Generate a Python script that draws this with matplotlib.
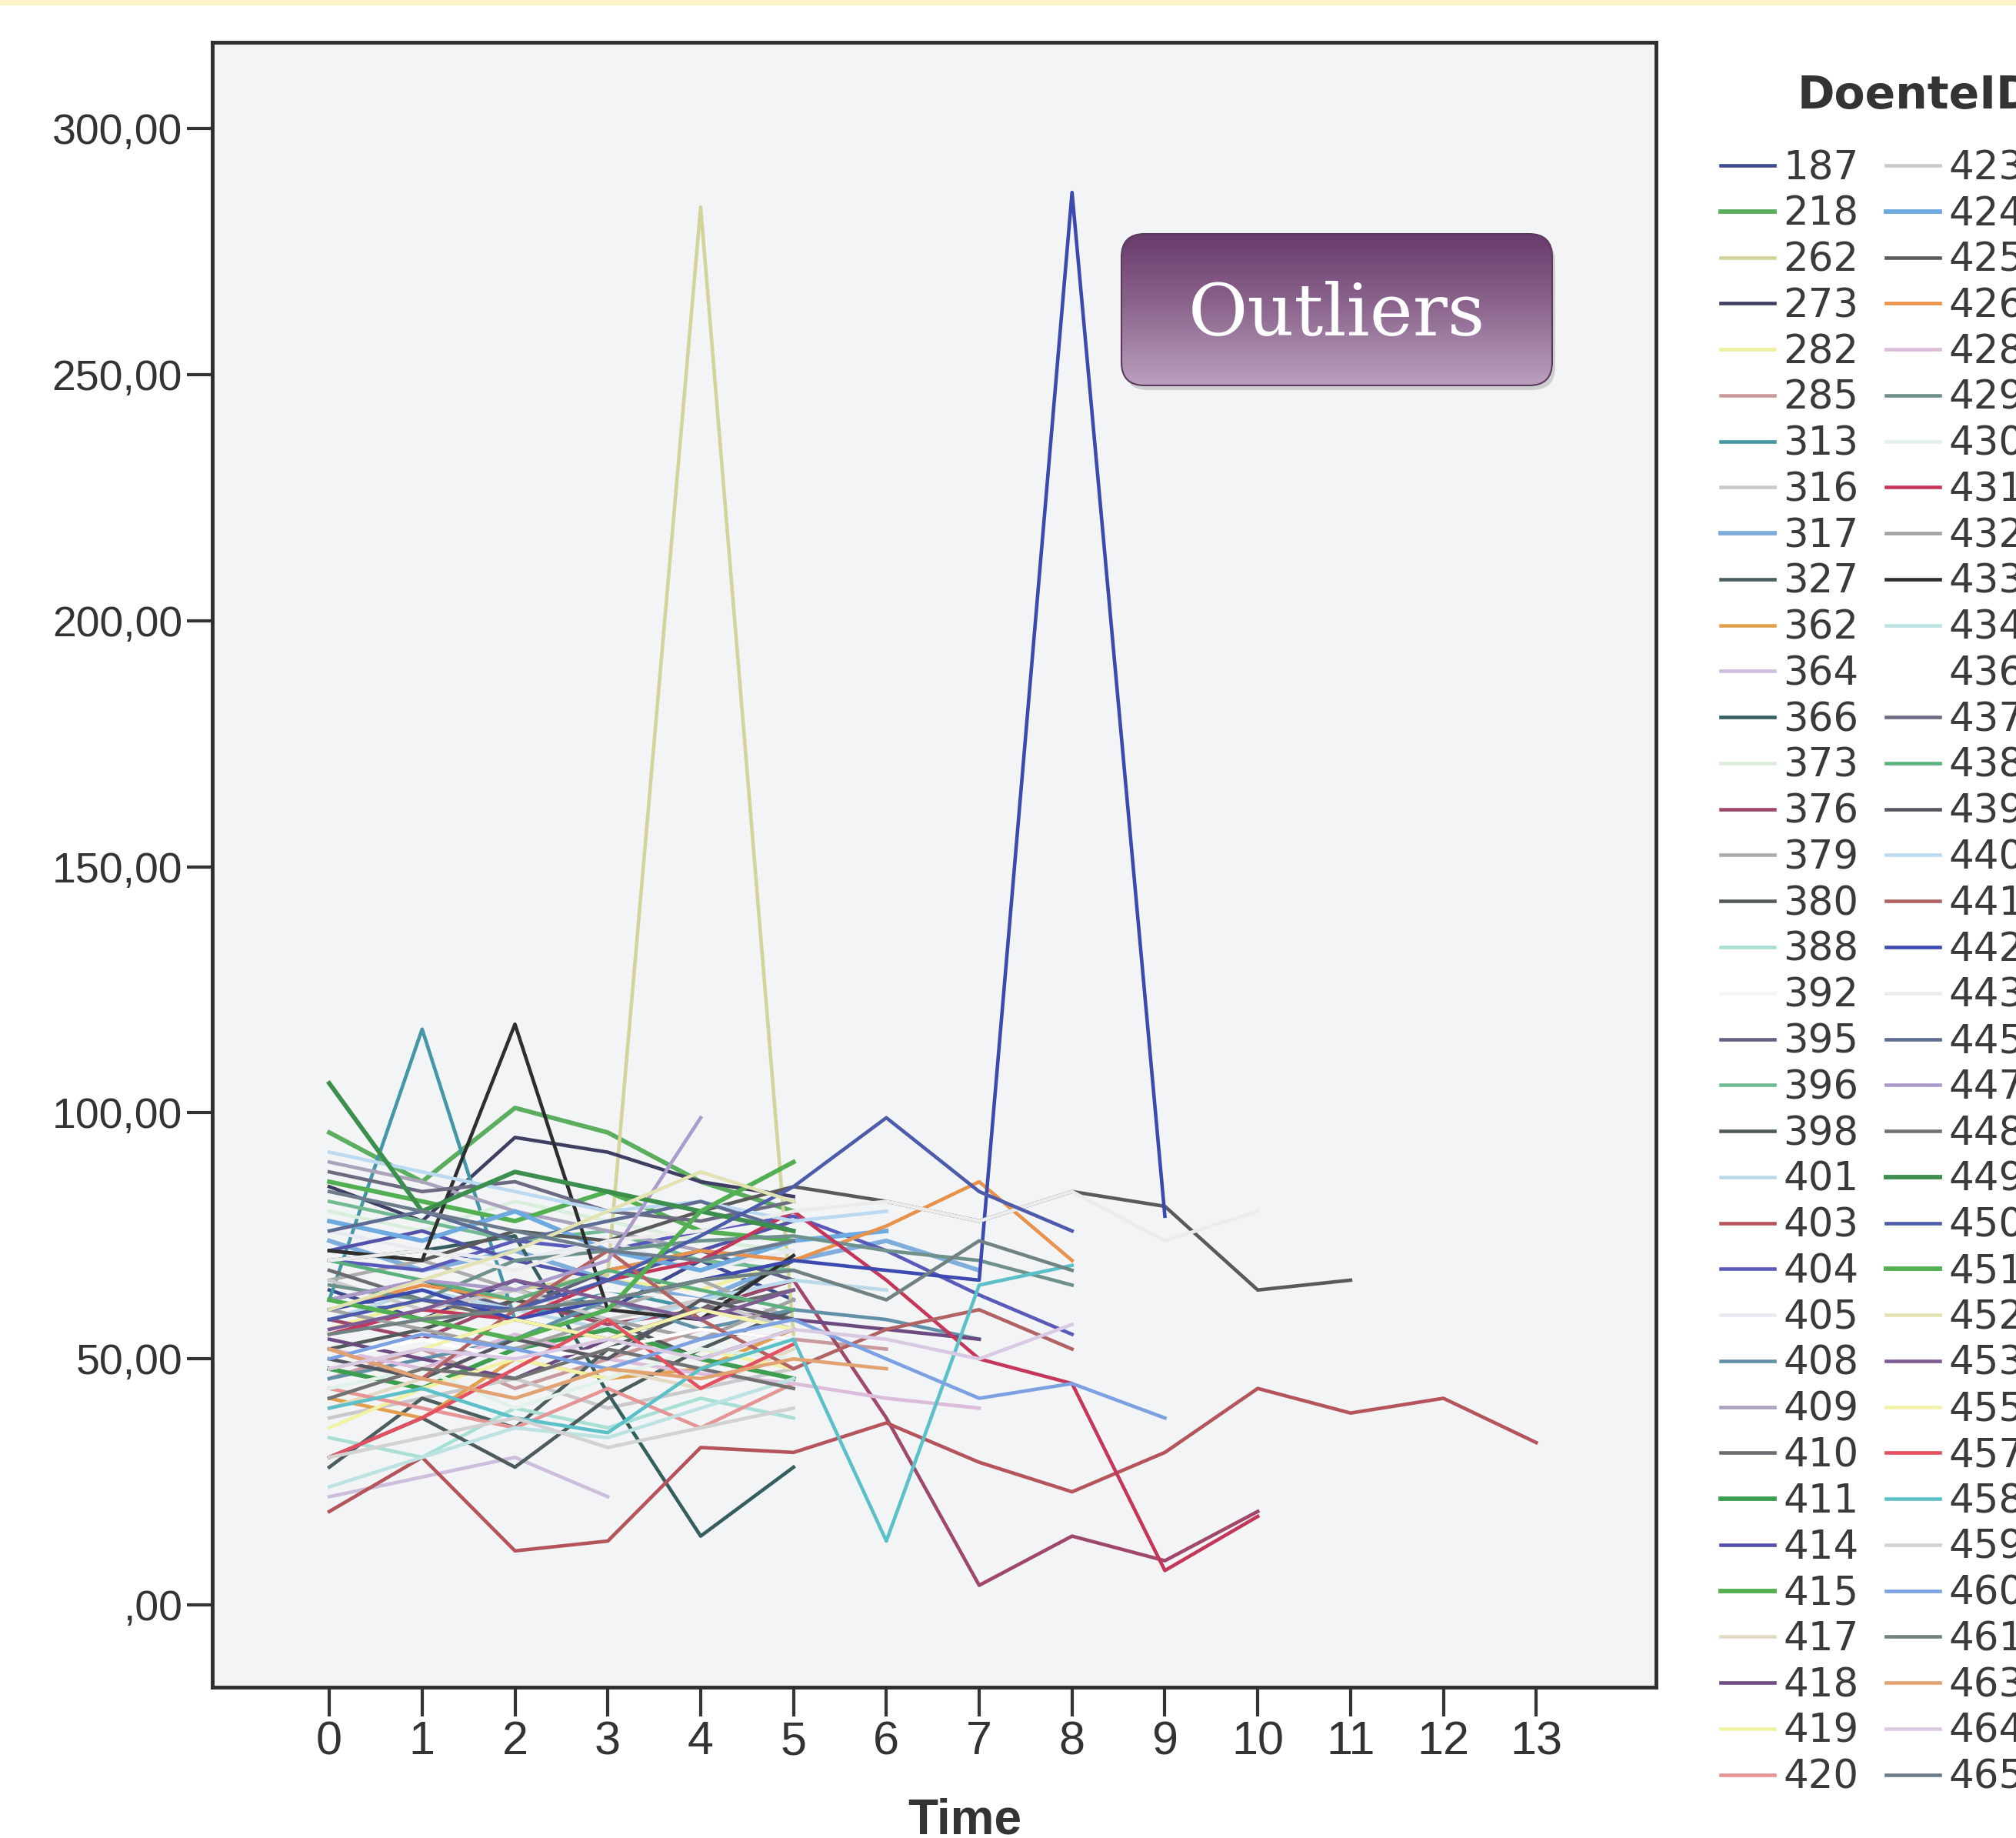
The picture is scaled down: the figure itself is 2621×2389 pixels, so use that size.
import matplotlib.pyplot as plt
import numpy as np
from matplotlib import font_manager
from matplotlib.patches import FancyBboxPatch, Rectangle
from matplotlib.colors import LinearSegmentedColormap

# measurements per patient (DoenteID), one value per Time 0, 1, 2, ...
p187 = [64, 58, 66, 60, 70, 62]
p218 = [96, 86, 101, 96, 86, 80]
p262 = [62, 58, 64, 67, 284, 55]
p273 = [85, 78, 95, 92, 86, 83]
p282 = [56, 62, 58, 66, 64, 70]
p285 = [46, 52, 44, 50, 56, 54, 52]
p313 = [62, 117, 58, 64, 60, 66]
p316 = [38, 42, 46, 40, 44, 48]
p317 = [74, 68, 72, 66, 62, 70, 74, 68]
p327 = [28, 42, 36, 52, 60, 70]
p362 = [42, 38, 50, 46, 48, 56]
p364 = [22, 26, 30, 22]
p366 = [70, 72, 75, 43, 14, 28]
p373 = [80, 76, 82, 78, 74, 72]
p376 = [58, 54, 62, 57, 60, 66, 38, 4, 14, 9, 19]
p379 = [66, 70, 64, 60, 66, 58]
p380 = [52, 56, 62, 58, 50, 56]
p388 = [34, 30, 40, 36, 42, 38]
p392 = [60, 62, 60, 64, 62, 60]
p395 = [62, 66, 60, 68, 72, 66]
p396 = [82, 78, 74, 76, 70, 68]
p398 = [30, 38, 28, 42, 52, 60]
p401 = [58, 64, 60, 56, 62, 66, 64]
p403 = [19, 30, 11, 13, 32, 31, 37, 29, 23, 31, 44, 39, 42, 33]
p404 = [70, 68, 74, 72, 76, 79, 72, 63, 55]
p405 = [76, 72, 70, 74, 68, 72]
p408 = [46, 50, 54, 62, 56, 60, 58, 54]
p409 = [90, 86, 80, 76, 72, 70]
p410 = [68, 62, 58, 54, 60, 64]
p411 = [48, 44, 52, 56, 50, 46]
p414 = [72, 76, 70, 66, 72, 78]
p415 = [86, 82, 78, 84, 76, 74]
p417 = [40, 46, 42, 48, 44, 52]
p418 = [54, 50, 46, 54, 60, 58, 56, 54]
p419 = [36, 44, 50, 46, 52, 48]
p420 = [44, 40, 36, 44, 36, 45]
p423 = [66, 60, 64, 58, 62, 56]
p424 = [78, 74, 80, 72, 68, 74, 76]
p425 = [72, 70, 76, 74, 80, 85, 82, 78, 84, 81, 64, 66]
p426 = [60, 65, 62, 68, 72, 70, 77, 86, 70]
p428 = [52, 48, 55, 50, 47, 45, 42, 40]
p429 = [65, 62, 70, 72, 74, 75, 72, 70, 65]
p430 = [44, 48, 40, 46, 52, 50]
p431 = [55, 60, 58, 66, 70, 80, 66, 50, 45, 7, 18]
p432 = [60, 56, 52, 58, 54, 62]
p433 = [72, 70, 118, 60, 58, 71]
p434 = [24, 30, 36, 34, 40, 46]
p436 = [50, 54, 50, 52, 56, 54]
p437 = [88, 84, 86, 80, 78, 82]
p438 = [70, 66, 62, 68, 64, 60]
p439 = [50, 46, 54, 50, 62, 58]
p440 = [92, 88, 84, 80, 82, 78, 80]
p441 = [52, 46, 60, 72, 58, 48, 56, 60, 52]
p442 = [60, 64, 58, 62, 66, 70, 68, 66, 287, 79]
p443 = [70, 72, 68, 74, 76, 80, 82, 78, 84, 74, 80]
p445 = [76, 80, 74, 78, 82, 76]
p447 = [62, 66, 64, 70, 99]
p448 = [42, 48, 46, 52, 48, 44]
p449 = [106, 80, 88, 84, 80, 76]
p450 = [58, 62, 60, 66, 75, 85, 99, 84, 76]
p451 = [62, 58, 54, 60, 80, 90]
p452 = [60, 66, 72, 80, 88, 82]
p453 = [56, 60, 66, 62, 58, 64]
p455 = [48, 52, 58, 54, 60, 56]
p457 = [30, 38, 48, 58, 44, 53]
p458 = [40, 44, 38, 35, 48, 54, 13, 65, 69]
p459 = [30, 34, 38, 32, 36, 40]
p460 = [50, 55, 52, 48, 54, 58, 50, 42, 45, 38]
p461 = [55, 58, 60, 62, 66, 68, 62, 74, 68]
p463 = [52, 46, 42, 48, 46, 50, 48]
p464 = [48, 52, 50, 54, 50, 56, 54, 50, 57]
p465 = [84, 80, 76, 72, 70, 74]

patient_ids = ['187', '218', '262', '273', '282', '285', '313', '316', '317',
               '327', '362', '364', '366', '373', '376', '379', '380', '388',
               '392', '395', '396', '398', '401', '403', '404', '405', '408',
               '409', '410', '411', '414', '415', '417', '418', '419', '420',
               '423', '424', '425', '426', '428', '429', '430', '431', '432',
               '433', '434', '436', '437', '438', '439', '440', '441', '442',
               '443', '445', '447', '448', '449', '450', '451', '452', '453',
               '455', '457', '458', '459', '460', '461', '463', '464', '465']
patient_series = [p187, p218, p262, p273, p282, p285, p313, p316, p317,
                  p327, p362, p364, p366, p373, p376, p379, p380, p388,
                  p392, p395, p396, p398, p401, p403, p404, p405, p408,
                  p409, p410, p411, p414, p415, p417, p418, p419, p420,
                  p423, p424, p425, p426, p428, p429, p430, p431, p432,
                  p433, p434, p436, p437, p438, p439, p440, p441, p442,
                  p443, p445, p447, p448, p449, p450, p451, p452, p453,
                  p455, p457, p458, p459, p460, p461, p463, p464, p465]

time_ticks = list(range(14))
y_ticks = [0, 50, 100, 150, 200, 250, 300]
y_labels = [',00', '50,00', '100,00', '150,00', '200,00', '250,00', '300,00']

colors = ['#3E4A8F', '#5AAE5E', '#D3D49C', '#3F3F63', '#EFEF9E', '#C99A9C',
          '#4596A6', '#C9C9CB', '#7FAEDD', '#4C5E5E', '#E2A04E', '#CDBEDC',
          '#355E5E', '#D9EEDB', '#A0486A', '#ABABAB', '#525A5A', '#A9E0D6',
          '#F4F4F4', '#616182', '#72BB92', '#4E5B5B', '#BAD9EA', '#B5545A',
          '#5A5ABA', '#E9E9F1', '#6290A9', '#ABA3BC', '#6B6B72', '#3E9E50',
          '#5252AA', '#52B052', '#E3DAC3', '#6C4B82', '#F2F2A4', '#E59593',
          '#CACACC', '#6CAAE0', '#5A5A5A', '#E8924C', '#DBBCDB', '#6F918C',
          '#E2F1E9', '#C4375A', '#A2A2A2', '#2E2E2E', '#BCE2E2', '#FFFFFF',
          '#6B6B82', '#5CB07C', '#575762', '#BBDAF2', '#B26262', '#3C4AB0',
          '#ECECEC', '#5C6C92', '#AB9BCB', '#727272', '#3C8F4C', '#4C5CAA',
          '#52B052', '#E2E2B2', '#7C5C92', '#F2F2AA', '#E3505F', '#5CC0C9',
          '#D2D2D2', '#7BA1E2', '#718282', '#E2A272', '#DAC9E2', '#6C7C8C']
thick_ids = ['218', '411', '415', '449', '451', '424', '317']

installed = {f.name for f in font_manager.fontManager.ttflist}
narrow = 'Liberation Sans Narrow' if 'Liberation Sans Narrow' in installed else 'Liberation Sans'

W, H = 2621, 2389
fig = plt.figure(figsize=(W / 100, H / 100), dpi=100)
fig.patch.set_facecolor('white')
fig.add_artist(Rectangle((0, 1 - 6 / H), 1, 6 / H, transform=fig.transFigure,
                         color='#FFF2C8', zorder=0))

ax = fig.add_axes([276 / W, 1 - 2193 / H, (2153 - 276) / W, (2193 - 55) / H])
ax.set_facecolor('#F3F4F6')

lines = []
for pid, vals, col in zip(patient_ids, patient_series, colors):
    lw = 4.2 if pid in thick_ids else 3.3
    ln, = ax.plot(range(len(vals)), vals, color=col, lw=lw, label=pid)
    lines.append(ln)

ax.set_xlim(-1.26, 14.29)
ax.set_ylim(-16.7, 317.5)
ax.set_xticks(time_ticks)
ax.set_xticklabels([str(t) for t in time_ticks], family=narrow, fontsize=44)
ax.set_yticks(y_ticks)
ax.set_yticklabels(y_labels, family='Liberation Sans', fontsize=40)
ax.tick_params(axis='x', direction='out', length=27, width=3, color='#333333',
               labelcolor='#333333', pad=4)
ax.tick_params(axis='y', direction='out', length=24, width=3, color='#333333',
               labelcolor='#333333', pad=4)
for s in ax.spines.values():
    s.set_linewidth(3.5)
    s.set_color('#2e2e2e')

fig.text(1254 / W, 1 - 2336 / H, 'Time', ha='center', va='top', fontsize=46,
         fontweight='bold', family=narrow, color='#333333')

# legend
fig.text(2337 / W, 1 - 125 / H, 'DoenteID', ha='left', va='center', fontsize=42,
         fontweight='bold', color='#333333')
leg = fig.legend(lines, patient_ids, loc='upper left',
                 bbox_to_anchor=(2237 / W, 1 - 194 / H), ncol=2, frameon=False,
                 fontsize=37, handlelength=1.36, handletextpad=0.22,
                 columnspacing=0.7, labelspacing=0.19, borderaxespad=0,
                 borderpad=0)
for t in leg.get_texts():
    t.set_color('#3a3a3a')

# "Outliers" callout box
bx = fig.add_axes([1440 / W, 1 - 520 / H, 600 / W, 230 / H])
cmap = LinearSegmentedColormap.from_list('purp', ['#BBA0BE', '#8E6890', '#673B6B'])
shadow = FancyBboxPatch((22, 13), 560, 197, boxstyle='round,pad=0,rounding_size=30',
                        fc='#000000', alpha=0.15, ec='none')
box = FancyBboxPatch((18, 19), 560, 197, boxstyle='round,pad=0,rounding_size=30',
                     fc='none', ec='#5b3a5c', lw=1.5, zorder=3)
bx.add_patch(shadow)
bx.add_patch(box)
grad = bx.imshow(np.linspace(0, 1, 256).reshape(-1, 1), extent=(18, 578, 19, 216),
                 origin='lower', aspect='auto', cmap=cmap, zorder=2)
grad.set_clip_path(box)
bx.set_xlim(0, 600)
bx.set_ylim(0, 230)
bx.axis('off')
bx.text(298, 84, 'Outliers', ha='center', va='baseline', fontsize=68,
        family='DejaVu Serif', color='white', zorder=4)

fig.savefig('out.png', dpi=100)
